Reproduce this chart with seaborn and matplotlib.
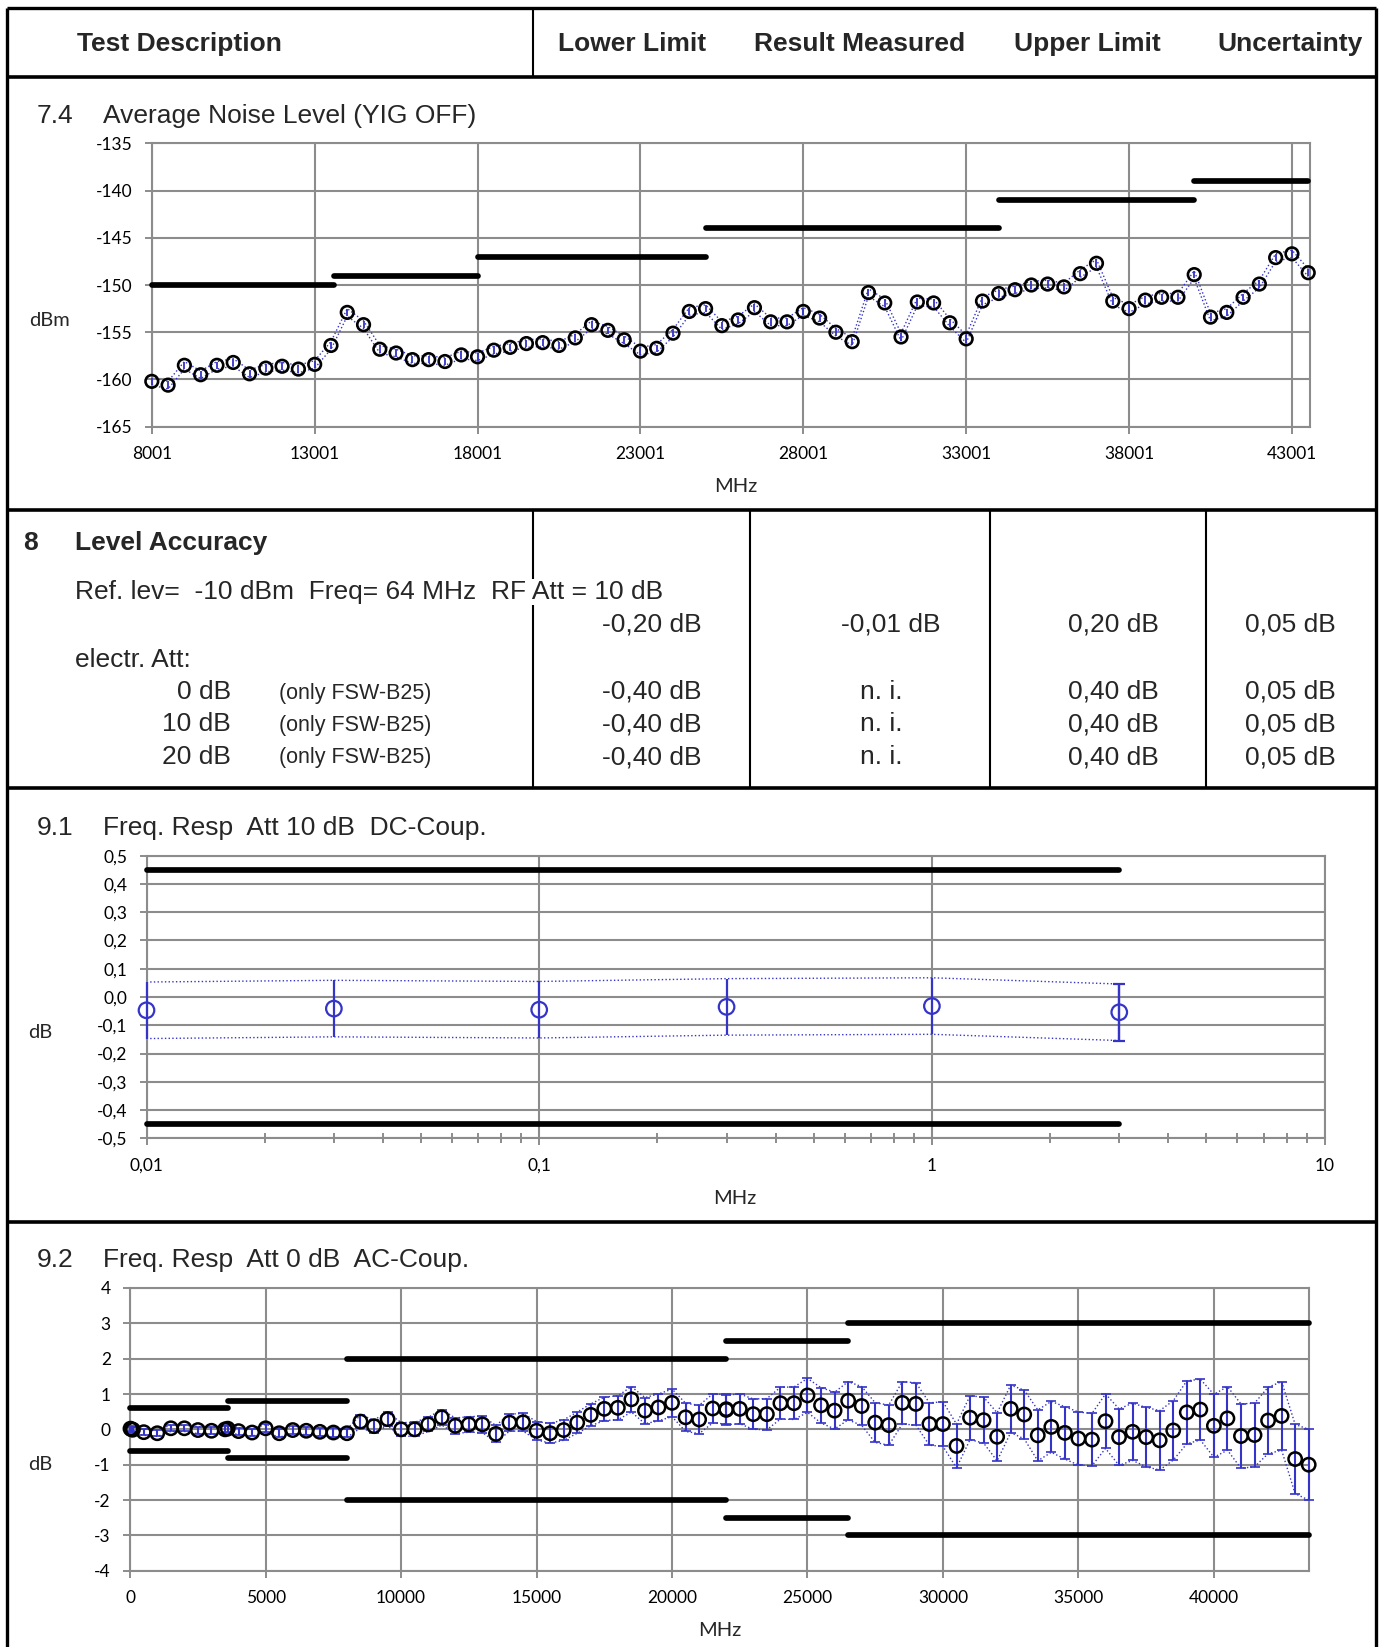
import matplotlib
matplotlib.use("Agg")
import numpy as np
import pandas as pd
import matplotlib.pyplot as plt
import seaborn as sns
from matplotlib.lines import Line2D
from matplotlib.ticker import FixedLocator, FuncFormatter, LogLocator, NullFormatter

# ------------------------------------------------------------------ data
header_labels = ["Test Description", "Lower Limit", "Result Measured", "Upper Limit", "Uncertainty"]

# 7.4 Average Noise Level (YIG OFF)
noise_freq = [8001, 8501, 9001, 9501, 10001, 10501, 11001, 11501, 12001, 12501,
              13001, 13501, 14001, 14501, 15001, 15501, 16001, 16501, 17001, 17501,
              18001, 18501, 19001, 19501, 20001, 20501, 21001, 21501, 22001, 22501,
              23001, 23501, 24001, 24501, 25001, 25501, 26001, 26501, 27001, 27501,
              28001, 28501, 29001, 29501, 30001, 30501, 31001, 31501, 32001, 32501,
              33001, 33501, 34001, 34501, 35001, 35501, 36001, 36501, 37001, 37501,
              38001, 38501, 39001, 39501, 40001, 40501, 41001, 41501, 42001, 42501,
              43001, 43501]
noise_level = [-160.2, -160.6, -158.5, -159.5, -158.5, -158.2, -159.4, -158.8, -158.6, -158.9,
               -158.4, -156.4, -152.9, -154.2, -156.8, -157.2, -157.9, -157.9, -158.1, -157.4,
               -157.6, -156.9, -156.6, -156.2, -156.1, -156.4, -155.6, -154.2, -154.8, -155.8,
               -157.0, -156.7, -155.1, -152.8, -152.5, -154.3, -153.7, -152.4, -153.9, -153.9,
               -152.8, -153.5, -155.0, -156.0, -150.8, -151.9, -155.5, -151.8, -151.9, -154.0,
               -155.7, -151.7, -150.9, -150.5, -150.0, -149.9, -150.2, -148.8, -147.7, -151.7,
               -152.5, -151.6, -151.3, -151.3, -148.9, -153.4, -152.9, -151.3, -149.9, -147.1,
               -146.7, -148.7]
noise_unc = 0.4
noise_lim_start = [8001, 13600, 18000, 25000, 34000, 40000]
noise_lim_end = [13600, 18000, 25000, 34000, 40000, 43501]
noise_lim_val = [-150, -149, -147, -144, -141, -139]
noise_xticks = [8001, 13001, 18001, 23001, 28001, 33001, 38001, 43001]
noise_yticks = [-165, -160, -155, -150, -145, -140, -135]

# 8 Level Accuracy
la_rows = ["0 dB", "10 dB", "20 dB"]
la_note = "(only FSW-B25)"
la_ref = ["-0,20 dB", "-0,01 dB", "0,20 dB", "0,05 dB"]
la_att = ["-0,40 dB", "n. i.", "0,40 dB", "0,05 dB"]

# 9.1 Freq. Resp Att 10 dB DC-Coup.
f91 = [0.01, 0.03, 0.1, 0.3, 1, 3]
v91 = [-0.047, -0.041, -0.045, -0.035, -0.032, -0.054]
u91 = [0.10, 0.10, 0.10, 0.10, 0.10, 0.10]
lim91_start = [0.01]
lim91_end = [3]
lim91_val = [0.45]
yticks91 = [-0.5, -0.4, -0.3, -0.2, -0.1, 0.0, 0.1, 0.2, 0.3, 0.4, 0.5]
xticks91 = [0.01, 0.1, 1, 10]
xlabels91 = ["0,01", "0,1", "1", "10"]

# 9.2 Freq. Resp Att 0 dB AC-Coup.
f92 = [10, 50, 100, 500, 1000, 1500, 2000, 2500, 3000, 3500, 3600, 4000, 4500, 5000, 5500,
       6000, 6500, 7000, 7500, 8000,
       8500, 9000, 9500, 10000, 10500, 11000, 11500, 12000, 12500, 13000, 13500, 14000, 14500,
       15000, 15500, 16000, 16500, 17000, 17500, 18000, 18500, 19000, 19500, 20000, 20500,
       21000, 21500,
       22000, 22000,
       22500, 23000, 23500, 24000, 24500, 25000, 25500, 26000, 26500, 27000, 27500, 28000,
       28500, 29000, 29500, 30000, 30500, 31000, 31500, 32000, 32500, 33000, 33500, 34000,
       34500, 35000, 35500, 36000, 36500, 37000, 37500, 38000, 38500, 39000, 39500, 40000,
       40500, 41000, 41500, 42000, 42500, 43000, 43500]
v92 = [0.02, 0.0, -0.01, -0.08, -0.11, 0.03, 0.03, -0.02, -0.04, 0.0, 0.02, -0.05, -0.09, 0.03, -0.11,
       -0.02, -0.04, -0.07, -0.09, -0.11,
       0.22, 0.09, 0.29, 0.0, 0.0, 0.14, 0.34, 0.10, 0.14, 0.14, -0.13, 0.19, 0.20,
       -0.04, -0.11, -0.02, 0.19, 0.41, 0.58, 0.61, 0.85, 0.53, 0.62, 0.75, 0.34,
       0.28, 0.59,
       0.57, 0.55,
       0.58, 0.43, 0.43, 0.74, 0.74, 0.96, 0.68, 0.53, 0.81, 0.66, 0.19, 0.12,
       0.75, 0.72, 0.15, 0.15, -0.47, 0.33, 0.26, -0.21, 0.58, 0.42, -0.17, 0.07,
       -0.10, -0.26, -0.29, 0.23, -0.22, -0.07, -0.22, -0.31, -0.03, 0.48, 0.56, 0.10,
       0.31, -0.19, -0.16, 0.25, 0.38, -0.84, -1.0]
u92 = [0.08, 0.08, 0.08, 0.09, 0.09, 0.09, 0.09, 0.1, 0.1, 0.1, 0.1, 0.1, 0.1, 0.11, 0.11,
       0.11, 0.11, 0.12, 0.12, 0.12,
       0.18, 0.18, 0.19, 0.19, 0.2, 0.2, 0.22, 0.22, 0.22, 0.23, 0.24, 0.24, 0.25,
       0.26, 0.28, 0.29, 0.3, 0.31, 0.33, 0.34, 0.36, 0.37, 0.38, 0.39, 0.4,
       0.4, 0.41,
       0.42, 0.42,
       0.42, 0.43, 0.44, 0.45, 0.46, 0.48, 0.5, 0.52, 0.54, 0.55, 0.56, 0.57,
       0.6, 0.6, 0.6, 0.63, 0.62, 0.62, 0.65, 0.68, 0.67, 0.69, 0.72, 0.72,
       0.74, 0.75, 0.74, 0.77, 0.8, 0.81, 0.84, 0.84, 0.84, 0.89, 0.86, 0.89,
       0.9, 0.91, 0.9, 0.94, 0.97, 0.98, 1.0]
lim92_start = [0, 3600, 8000, 22000, 26500]
lim92_end = [3600, 8000, 22000, 26500, 43500]
lim92_val = [0.6, 0.8, 2.0, 2.5, 3.0]
xticks92 = [0, 5000, 10000, 15000, 20000, 25000, 30000, 35000, 40000]
yticks92 = [-4, -3, -2, -1, 0, 1, 2, 3, 4]

# ------------------------------------------------------------------ style
sns.set_theme(style="white")
plt.rcParams['font.family'] = ['Liberation Sans', 'DejaVu Sans']

GRID = "#8c8c8c"
BLUE = "#3434c8"
TICKFONT = "Lato"
LIMW = 4.1

W, H = 1381, 1647
fig = plt.figure(figsize=(W / 100, H / 100), dpi=100)


def fx(x):
    return x / W


def fy(y):
    return 1 - y / H


def fline(xs, ys, lw):
    fig.add_artist(Line2D([fx(v) for v in xs], [fy(v) for v in ys], color="black",
                          lw=lw, transform=fig.transFigure, solid_capstyle="butt"))


def ftext(x, y, s, **kw):
    kw.setdefault("va", "center")
    kw.setdefault("fontsize", 19)
    return fig.text(fx(x), fy(y), s, **kw)


def make_axes(left, right, top, bottom):
    return fig.add_axes([fx(left), fy(bottom), (right - left) / W, (bottom - top) / H])


def style_axes(ax):
    for s in ax.spines.values():
        s.set_visible(True)
        s.set_color(GRID)
        s.set_linewidth(1.5)
    ax.grid(True, which="major", color=GRID, lw=1.5)
    ax.set_axisbelow(True)
    ax.tick_params(axis="both", which="major", direction="out", length=5, width=1.4,
                   color=GRID, labelsize=12.5, pad=9, bottom=True, left=True,
                   labelfontfamily=TICKFONT, labelcolor="black")
    ax.set_xlabel("")
    ax.set_ylabel("")


def draw_limits(ax, starts, ends, vals, mirror=False):
    for s, e, v in zip(starts, ends, vals):
        ax.plot([s, e], [v, v], color="black", lw=LIMW, solid_capstyle="round", zorder=4, clip_on=False)
        if mirror:
            ax.plot([s, e], [-v, -v], color="black", lw=LIMW, solid_capstyle="round", zorder=4, clip_on=False)


def unclip(ax):
    for art in ax.lines + ax.collections:
        art.set_clip_on(False)


# ------------------------------------------------------------------ frame
fline([7, 7], [8, H], 2.4)
fline([1376, 1376], [8, H], 2.4)
fline([7, 1376], [8, 8], 2.4)
for yy in [77, 510, 787.5, 1221.5]:
    fline([7, 1376], [yy, yy], 2.6)
fline([533, 533], [8, 77], 1.5)
for xx in [533, 750, 990, 1206]:
    fline([xx, xx], [510, 787.5], 1.5)

# header
for lab, cx in zip(header_labels, [179, 632, 860, 1087, 1290]):
    ftext(cx, 44, lab, ha="center", fontweight="bold")

# ------------------------------------------------------------------ 7.4
ftext(37, 116, "7.4")
ftext(103, 116, "Average Noise Level (YIG OFF)")
ax1 = make_axes(151.8, 1309.5, 143.3, 426.7)
df1 = pd.DataFrame({"f": noise_freq, "v": noise_level})
df1["up"] = df1["v"] + noise_unc
df1["lo"] = df1["v"] - noise_unc
sns.lineplot(data=df1, x="f", y="up", ax=ax1, color=BLUE, lw=1.0, linestyle=":", estimator=None, zorder=2)
sns.lineplot(data=df1, x="f", y="lo", ax=ax1, color=BLUE, lw=1.0, linestyle=":", estimator=None, zorder=2)
ax1.errorbar(df1["f"], df1["v"], yerr=noise_unc, fmt="none", ecolor=BLUE, elinewidth=1.3, capsize=0, zorder=3)
sns.scatterplot(data=df1, x="f", y="v", ax=ax1, marker="o", s=82, facecolors="none",
                edgecolor="black", linewidth=1.9, zorder=5)
unclip(ax1)
draw_limits(ax1, noise_lim_start, noise_lim_end, noise_lim_val)
ax1.set_xlim(8001, 43540)
ax1.set_ylim(-165, -135)
ax1.xaxis.set_major_locator(FixedLocator(noise_xticks))
ax1.yaxis.set_major_locator(FixedLocator(noise_yticks))
ax1.xaxis.set_major_formatter(FuncFormatter(lambda v, p: f"{v:.0f}"))
ax1.yaxis.set_major_formatter(FuncFormatter(lambda v, p: f"{v:.0f}"))
style_axes(ax1)
ftext(49, 320, "dBm", ha="center", fontsize=14.5, family=TICKFONT)
ftext(736, 487, "MHz", ha="center", fontsize=14.5, family=TICKFONT)

# ------------------------------------------------------------------ 8
ftext(23, 543, "8", fontweight="bold")
ftext(74.6, 543, "Level Accuracy", fontweight="bold")
ftext(74.6, 592, "Ref. lev=  -10 dBm  Freq= 64 MHz  RF Att = 10 dB",
      bbox=dict(facecolor="white", edgecolor="none", pad=1.0), zorder=5)
ref_pos = [(702, "right"), (891, "center"), (1158.5, "right"), (1335.5, "right")]
for s, (px, ha) in zip(la_ref, ref_pos):
    ftext(px, 625, s, ha=ha)
ftext(74.6, 660, "electr. Att:")
att_pos = [(702, "right"), (881, "center"), (1158.5, "right"), (1335.5, "right")]
for row, yy in zip(la_rows, [692, 724.5, 757]):
    ftext(231, yy, row, ha="right")
    ftext(279, yy + 1, la_note, fontsize=15.5)
    for s, (px, ha) in zip(la_att, att_pos):
        ftext(px, yy, s, ha=ha)

# ------------------------------------------------------------------ 9.1
ftext(37, 828, "9.1")
ftext(103, 828, "Freq. Resp  Att 10 dB  DC-Coup.")
ax2 = make_axes(146.5, 1324.6, 855.7, 1138.3)
df2 = pd.DataFrame({"f": f91, "v": v91, "u": u91})
df2["up"] = df2["v"] + df2["u"]
df2["lo"] = df2["v"] - df2["u"]
sns.lineplot(data=df2, x="f", y="up", ax=ax2, color=BLUE, lw=1.0, linestyle=":", estimator=None, zorder=2)
sns.lineplot(data=df2, x="f", y="lo", ax=ax2, color=BLUE, lw=1.0, linestyle=":", estimator=None, zorder=2)
ax2.errorbar(df2["f"], df2["v"], yerr=df2["u"], fmt="none", ecolor=BLUE, elinewidth=1.6, capsize=0, zorder=3)
ax2.errorbar(df2["f"].iloc[-1:], df2["v"].iloc[-1:], yerr=df2["u"].iloc[-1:], fmt="none",
             ecolor=BLUE, elinewidth=1.6, capsize=4, capthick=1.6, zorder=3)
sns.scatterplot(data=df2, x="f", y="v", ax=ax2, marker="o", s=125, facecolors="none",
                edgecolor=BLUE, linewidth=1.6, zorder=5)
unclip(ax2)
draw_limits(ax2, lim91_start, lim91_end, lim91_val, mirror=True)
ax2.set_xscale("log")
ax2.set_xlim(0.01, 10)
ax2.set_ylim(-0.5, 0.5)
ax2.xaxis.set_major_locator(FixedLocator(xticks91))
ax2.xaxis.set_major_formatter(FuncFormatter(lambda v, p: xlabels91[xticks91.index(v)] if v in xticks91 else ""))
ax2.xaxis.set_minor_locator(LogLocator(base=10, subs=[2, 3, 4, 5, 6, 7, 8, 9]))
ax2.xaxis.set_minor_formatter(NullFormatter())
ax2.yaxis.set_major_locator(FixedLocator(yticks91))
ax2.yaxis.set_major_formatter(FuncFormatter(lambda v, p: f"{v:.1f}".replace(".", ",").replace("-0,0", "0,0")))
style_axes(ax2)
ax2.tick_params(axis="x", which="minor", direction="inout", length=7, width=1.4, color=GRID, bottom=True)
ftext(40, 1032, "dB", ha="center", fontsize=14.5, family=TICKFONT)
ftext(735, 1198, "MHz", ha="center", fontsize=14.5, family=TICKFONT)

# ------------------------------------------------------------------ 9.2
ftext(37, 1260, "9.2")
ftext(103, 1260, "Freq. Resp  Att 0 dB  AC-Coup.")
ax3 = make_axes(130.2, 1308.7, 1288, 1570.7)
df3 = pd.DataFrame({"f": f92, "v": v92, "u": u92})
df3["up"] = df3["v"] + df3["u"]
df3["lo"] = df3["v"] - df3["u"]
sns.lineplot(data=df3, x="f", y="up", ax=ax3, color=BLUE, lw=1.0, linestyle=":", estimator=None, sort=False, zorder=2)
sns.lineplot(data=df3, x="f", y="lo", ax=ax3, color=BLUE, lw=1.0, linestyle=":", estimator=None, sort=False, zorder=2)
ax3.errorbar(df3["f"], df3["v"], yerr=df3["u"], fmt="none", ecolor=BLUE, elinewidth=1.5,
             capsize=3.5, capthick=1.2, zorder=3)
sns.scatterplot(data=df3, x="f", y="v", ax=ax3, marker="o", s=92, facecolors="none",
                edgecolor="black", linewidth=1.8, zorder=5)
unclip(ax3)
draw_limits(ax3, lim92_start, lim92_end, lim92_val, mirror=True)
ax3.set_xlim(0, 43500)
ax3.set_ylim(-4, 4)
ax3.xaxis.set_major_locator(FixedLocator(xticks92))
ax3.yaxis.set_major_locator(FixedLocator(yticks92))
ax3.xaxis.set_major_formatter(FuncFormatter(lambda v, p: f"{v:.0f}"))
ax3.yaxis.set_major_formatter(FuncFormatter(lambda v, p: f"{v:.0f}"))
style_axes(ax3)
ftext(40, 1465, "dB", ha="center", fontsize=14.5, family=TICKFONT)
ftext(720, 1631, "MHz", ha="center", fontsize=14.5, family=TICKFONT)

fig.savefig("out.png", dpi=100)
